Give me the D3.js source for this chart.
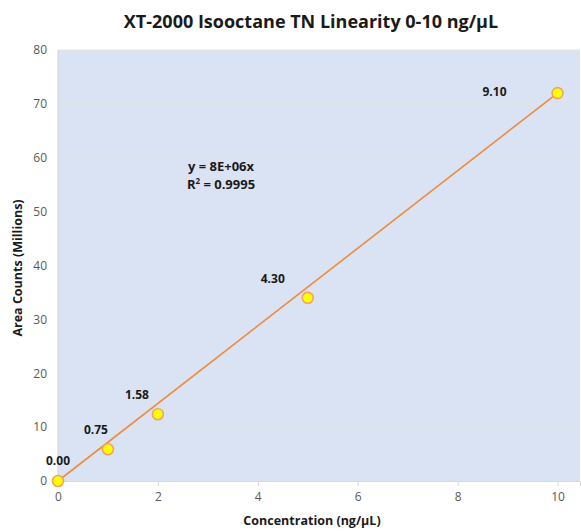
<!DOCTYPE html>
<html><head><meta charset="utf-8">
<script src="https://cdn.jsdelivr.net/npm/d3@7"></script>
<style>body{margin:0;background:#fff;} text{font-family:"Open Sans","Liberation Sans",sans-serif;}</style>
</head><body>
<svg id="c" width="581" height="531"></svg>
<script>
const conc = [0, 1, 2, 5, 10];
const areaCounts = [0, 5.9, 12.4, 34.0, 72.0];
const pointLabels = ["0.00", "0.75", "1.58", "4.30", "9.10"];
const trendX = [0, 10];
const trendY = [0, 72.0];
const xTicks = [0, 2, 4, 6, 8, 10];
const yTicks = [0, 10, 20, 30, 40, 50, 60, 70, 80];
const labelOffsets = [[0, -19], [-12, -18], [-21, -18], [-35, -18], [-63, 0]];

const svg = d3.select("#c");
const m = {l: 58, r: 1, t: 50, b: 50};
const W = 581, H = 531;
const x = d3.scaleLinear().domain([0, 10.45]).range([m.l, W - m.r]);
const y = d3.scaleLinear().domain([0, 80]).range([H - m.b, m.t]);

svg.append("rect").attr("x", m.l).attr("y", m.t).attr("width", W - m.r - m.l).attr("height", y(0) - m.t).attr("fill", "#dae3f3");

svg.append("g").selectAll("line").data(yTicks.filter(d => d > 0)).join("line")
  .attr("x1", m.l).attr("x2", W - m.r).attr("y1", d => y(d)).attr("y2", d => y(d))
  .attr("stroke", "#e6e4dc").attr("stroke-width", 1);
svg.append("line").attr("x1", m.l).attr("x2", m.l).attr("y1", m.t).attr("y2", y(0)).attr("stroke", "#d0d0d0");

const xa = svg.append("g").attr("transform", `translate(0,${y(0)})`)
  .call(d3.axisBottom(x).tickValues(xTicks).tickSize(5).tickPadding(6));
xa.select(".domain").attr("stroke", "#d9d9d9");
xa.selectAll(".tick line").attr("stroke", "#d9d9d9");
xa.selectAll("text").attr("fill", "#595959").style("font-size", "12px").style("font-family", "Open Sans");

const ya = svg.append("g").attr("transform", `translate(${m.l},0)`)
  .call(d3.axisLeft(y).tickValues(yTicks).tickSize(0).tickPadding(11));
ya.select(".domain").remove();
ya.selectAll("text").attr("fill", "#595959").style("font-size", "12px").style("font-family", "Open Sans");

svg.append("line").attr("x1", x(trendX[0])).attr("y1", y(trendY[0])).attr("x2", x(trendX[1])).attr("y2", y(trendY[1]))
  .attr("stroke", "#f08a3c").attr("stroke-width", 1.6);

svg.append("g").selectAll("circle").data(conc).join("circle")
  .attr("cx", d => x(d)).attr("cy", (d, i) => y(areaCounts[i])).attr("r", 5.5)
  .attr("fill", "#ffff00").attr("stroke", "#f4a460").attr("stroke-width", 1.6);

svg.append("g").selectAll("text").data(conc).join("text")
  .attr("x", (d, i) => x(d) + labelOffsets[i][0]).attr("y", (d, i) => y(areaCounts[i]) + labelOffsets[i][1])
  .attr("text-anchor", "middle").attr("dominant-baseline", "middle")
  .style("font-size", "12px").style("font-weight", "bold").attr("fill", "#1a1a1a")
  .text((d, i) => pointLabels[i]);

svg.append("text").attr("x", 221).attr("y", 171).attr("text-anchor", "middle")
  .style("font-size", "13px").style("font-weight", "bold").attr("fill", "#1a1a1a").text("y = 8E+06x");
const r2 = svg.append("text").attr("x", 221).attr("y", 189).attr("text-anchor", "middle")
  .style("font-size", "13px").style("font-weight", "bold").attr("fill", "#1a1a1a");
r2.append("tspan").text("R");
r2.append("tspan").attr("dy", -5).style("font-size", "8px").text("2");
r2.append("tspan").attr("dy", 5).text(" = 0.9995");

svg.append("text").attr("x", 311).attr("y", 28).attr("text-anchor", "middle")
  .style("font-size", "18px").style("font-weight", "bold").attr("fill", "#1a1a1a")
  .text("XT-2000 Isooctane TN Linearity 0-10 ng/µL");
svg.append("text").attr("x", 312).attr("y", 525).attr("text-anchor", "middle")
  .style("font-size", "12.5px").style("font-weight", "bold").attr("fill", "#1a1a1a")
  .text("Concentration (ng/µL)");
svg.append("text").attr("transform", "translate(22,268) rotate(-90)").attr("text-anchor", "middle")
  .style("font-size", "12.5px").style("font-weight", "bold").attr("fill", "#1a1a1a")
  .text("Area Counts (Millions)");
</script>
</body></html>
